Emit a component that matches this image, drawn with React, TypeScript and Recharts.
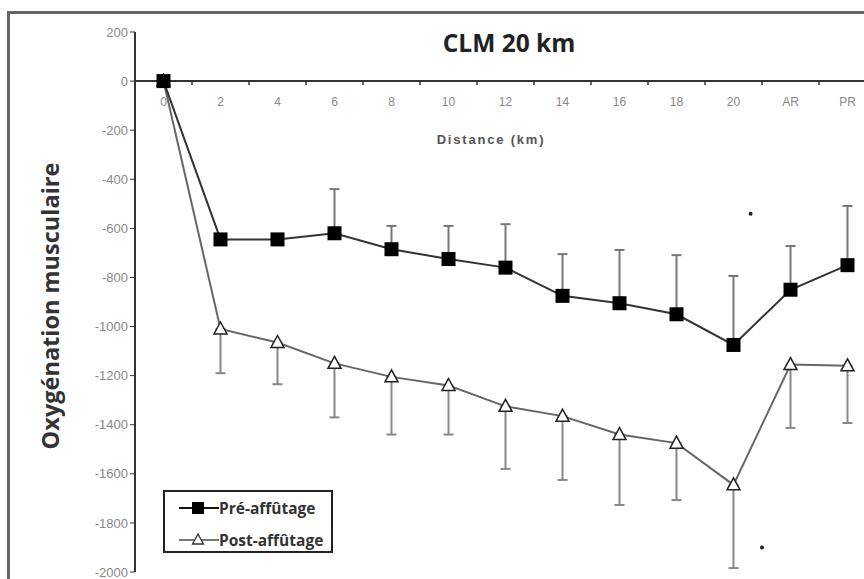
import React from "react";
import {
  LineChart,
  Line,
  XAxis,
  YAxis,
  ErrorBar,
  ReferenceLine,
  ReferenceDot,
  LabelList,
  Legend,
} from "recharts";

// categories (km) — last two are "AR" and "PR"
const categories = ["0", "2", "4", "6", "8", "10", "12", "14", "16", "18", "20", "AR", "PR"];

// Pré-affûtage (squares), error bars go up
const preValues = [0, -645, -645, -620, -685, -725, -760, -875, -905, -950, -1075, -850, -750];
const preErrors = [0, 0, 0, 180, 95, 135, 177, 170, 217, 241, 281, 178, 241];

// Post-affûtage (triangles), error bars go down
const postValues = [0, -1010, -1065, -1150, -1205, -1240, -1325, -1365, -1440, -1475, -1645, -1155, -1160];
const postErrors = [0, 180, 170, 220, 235, 200, 255, 260, 287, 232, 339, 258, 233];

const yTicks = [200, 0, -200, -400, -600, -800, -1000, -1200, -1400, -1600, -1800, -2000];

// significance marks (*) between 20 and AR
const sigMarks = [
  { x: 10.3, y: -540 },
  { x: 10.5, y: -1900 },
];

const rows = categories.map((label, i) => ({
  x: i,
  label,
  pre: preValues[i],
  preErr: [0, preErrors[i]],
  post: postValues[i],
  postErr: [postErrors[i], 0],
}));

// x axis sits on the zero line: labels at categories, tick marks in between
const axisLabels = categories.map((label, i) => ({ x: i, y: 0, label }));
const axisTicks = categories.slice(1).map((_, i) => ({ x: i + 0.5, y: 0 }));

const font = "'Open Sans', 'DejaVu Sans', sans-serif";
const tickFont = "'Liberation Sans', Arial, sans-serif";

const SquareDot = (p: any) => (
  <rect key={`sq-${p.index}`} x={p.cx - 7} y={p.cy - 7} width={14} height={14} fill="#000" />
);

const TriangleDot = (p: any) => (
  <polygon
    key={`tr-${p.index}`}
    points={`${p.cx},${p.cy - 7} ${p.cx - 6.5},${p.cy + 5} ${p.cx + 6.5},${p.cy + 5}`}
    fill="#fff"
    stroke="#222"
    strokeWidth={1.5}
  />
);

const TickMark = (p: any) => (
  <line key={`tk-${p.index}`} x1={p.cx} y1={p.cy} x2={p.cx} y2={p.cy + 4} stroke="#333" strokeWidth={1.5} />
);

function LegendRow({ kind, text }: { kind: "square" | "triangle"; text: string }) {
  const color = kind === "square" ? "#111" : "#777";
  return (
    <div style={{ display: "flex", alignItems: "center", height: 32 }}>
      <svg width={40} height={16} style={{ flex: "none" }}>
        <line x1={0} y1={8} x2={40} y2={8} stroke={color} strokeWidth={2} />
        {kind === "square" ? (
          <rect x={13} y={2} width={12} height={12} fill="#000" />
        ) : (
          <polygon points="19,2 13.5,12 24.5,12" fill="#fff" stroke="#333" strokeWidth={1.3} />
        )}
      </svg>
      <span style={{ marginLeft: 0 }}>{text}</span>
    </div>
  );
}

function LegendBox() {
  return (
    <div
      style={{
        width: 170,
        height: 63,
        boxSizing: "border-box",
        border: "2px solid #222",
        background: "#fff",
        paddingLeft: 14,
        fontFamily: font,
        fontWeight: 700,
        fontSize: 15.5,
        color: "#333",
        whiteSpace: "nowrap",
      }}
    >
      <LegendRow kind="square" text="Pré-affûtage" />
      <LegendRow kind="triangle" text="Post-affûtage" />
    </div>
  );
}

export default function App() {
  return (
    <div
      style={{
        position: "fixed",
        left: 0,
        top: 0,
        width: 864,
        height: 579,
        overflow: "hidden",
        background: "#fff",
      }}
    >
      {/* outer frame */}
      <div
        style={{
          position: "absolute",
          left: 7,
          top: 11,
          width: 900,
          height: 600,
          border: "3px solid #666",
        }}
      />

      <div style={{ position: "absolute", left: 0, top: 0 }}>
        <LineChart width={900} height={600} data={rows} margin={{ top: 32, right: 24, bottom: 28, left: 75 }}>
          <XAxis dataKey="x" type="number" domain={[-0.5, 12.5]} hide />
          <YAxis
            type="number"
            domain={[-2000, 200]}
            ticks={yTicks}
            interval={0}
            width={60}
            tickSize={5}
            tick={{ fill: "#888", fontSize: 13, fontFamily: tickFont }}
            tickLine={{ stroke: "#333" }}
            axisLine={{ stroke: "#333", strokeWidth: 2 }}
          />
          <ReferenceLine y={0} stroke="#333" strokeWidth={2} />

          <Line
            data={axisTicks}
            dataKey="y"
            stroke="none"
            dot={TickMark}
            activeDot={false}
            isAnimationActive={false}
          />
          <Line
            data={axisLabels}
            dataKey="y"
            stroke="none"
            dot={false}
            activeDot={false}
            isAnimationActive={false}
          >
            <LabelList dataKey="label" position="bottom" offset={16} fill="#888" fontSize={12} fontFamily={tickFont} />
          </Line>

          <Line
            dataKey="post"
            stroke="#666"
            strokeWidth={2}
            dot={TriangleDot}
            activeDot={false}
            isAnimationActive={false}
          >
            <ErrorBar dataKey="postErr" direction="y" width={5} stroke="#888" strokeWidth={2} />
          </Line>
          <Line
            dataKey="pre"
            stroke="#333"
            strokeWidth={2}
            dot={SquareDot}
            activeDot={false}
            isAnimationActive={false}
          >
            <ErrorBar dataKey="preErr" direction="y" width={5} stroke="#777" strokeWidth={2} />
          </Line>

          {sigMarks.map((m, i) => (
            <ReferenceDot key={i} x={m.x} y={m.y} r={2} fill="#222" stroke="none" />
          ))}

          <Legend
            layout="vertical"
            align="center"
            verticalAlign="middle"
            wrapperStyle={{ left: 163, top: 490, width: 170, height: 63 }}
            content={() => <LegendBox />}
          />
        </LineChart>
      </div>

      {/* title */}
      <div
        style={{
          position: "absolute",
          left: 409,
          top: 26,
          width: 200,
          textAlign: "center",
          fontFamily: font,
          fontWeight: 700,
          fontSize: 24.5,
          color: "#222",
        }}
      >
        CLM 20 km
      </div>

      {/* x axis title */}
      <div
        style={{
          position: "absolute",
          left: 391,
          top: 132,
          width: 200,
          textAlign: "center",
          fontFamily: tickFont,
          fontWeight: 700,
          fontSize: 13,
          letterSpacing: 1.8,
          color: "#555",
        }}
      >
        Distance (km)
      </div>

      {/* y axis title */}
      <div
        style={{
          position: "absolute",
          left: 50,
          top: 306,
          transform: "translate(-50%, -50%) rotate(-90deg)",
          whiteSpace: "nowrap",
          fontFamily: font,
          fontWeight: 700,
          fontSize: 23.5,
          color: "#333",
        }}
      >
        Oxygénation musculaire
      </div>
    </div>
  );
}
